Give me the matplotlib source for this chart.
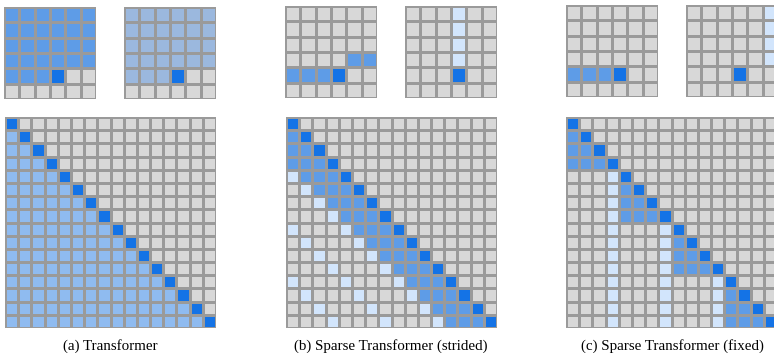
import numpy as np
import matplotlib.pyplot as plt
from matplotlib.colors import ListedColormap

# cell codes: . empty, d current token, m attended (dense), a attended (full), s second head (full), l attended (sparse)
codes = ".dmlas"
cell_colors = ["#d8d8d8", "#1473e6", "#5e9ce7", "#d2e5fc", "#8fbbf0", "#9bb8de"]

# small 6x6 grids (two heads per panel)
small_a1 = ["mmmmmm", "mmmmmm", "mmmmmm", "mmmmmm", "mmmd..", "......"]
small_a2 = ["ssssss", "ssssss", "ssssss", "ssssss", "sssd..", "......"]
small_b1 = ["......", "......", "......", "....mm", "mmmd..", "......"]
small_b2 = ["...l..", "...l..", "...l..", "...l..", "...d..", "......"]
small_c1 = ["......", "......", "......", "......", "mmmd..", "......"]
small_c2 = [".....l", ".....l", ".....l", ".....l", "...d..", "......"]

# big 16x16 connectivity matrices
big_a = ["d...............",
         "ad..............",
         "aad.............",
         "aaad............",
         "aaaad...........",
         "aaaaad..........",
         "aaaaaad.........",
         "aaaaaaad........",
         "aaaaaaaad.......",
         "aaaaaaaaad......",
         "aaaaaaaaaad.....",
         "aaaaaaaaaaad....",
         "aaaaaaaaaaaad...",
         "aaaaaaaaaaaaad..",
         "aaaaaaaaaaaaaad.",
         "aaaaaaaaaaaaaaad"]
big_b = ["d...............",
         "md..............",
         "mmd.............",
         "mmmd............",
         "lmmmd...........",
         ".lmmmd..........",
         "..lmmmd.........",
         "...lmmmd........",
         "l...lmmmd.......",
         ".l...lmmmd......",
         "..l...lmmmd.....",
         "...l...lmmmd....",
         "l...l...lmmmd...",
         ".l...l...lmmmd..",
         "..l...l...lmmmd.",
         "...l...l...lmmmd"]
big_c = ["d...............",
         "md..............",
         "mmd.............",
         "mmmd............",
         "...ld...........",
         "...lmd..........",
         "...lmmd.........",
         "...lmmmd........",
         "...l...ld.......",
         "...l...lmd......",
         "...l...lmmd.....",
         "...l...lmmmd....",
         "...l...l...ld...",
         "...l...l...lmd..",
         "...l...l...lmmd.",
         "...l...l...lmmmd"]

captions = ["(a) Transformer",
            "(b) Sparse Transformer (strided)",
            "(c) Sparse Transformer (fixed)"]

W, H = 774, 353
fig = plt.figure(figsize=(W / 100, H / 100), dpi=100)
cmap = ListedColormap(cell_colors)


def draw_grid(rows, left, top, size):
    ax = fig.add_axes([left / W, 1 - (top + size) / H, size / W, size / H])
    vals = np.array([[codes.index(ch) for ch in r] for r in rows])
    n = vals.shape[0]
    ax.pcolormesh(np.arange(n + 1), np.arange(n + 1), vals, cmap=cmap,
                  vmin=-0.5, vmax=len(codes) - 0.5,
                  edgecolors="#9a9a9a", linewidth=0.75)
    ax.set_xlim(0, n)
    ax.set_ylim(n, 0)
    ax.set_axis_off()
    return ax


small = [(small_a1, 4, 7), (small_a2, 124, 7),
         (small_b1, 285, 6), (small_b2, 405, 6),
         (small_c1, 566, 5), (small_c2, 686, 5)]
for rows, left, top in small:
    draw_grid(rows, left, top, 92)

big = [(big_a, 5), (big_b, 286), (big_c, 566)]
for rows, left in big:
    draw_grid(rows, left, 117, 211)

for text, cx in zip(captions, [110, 391, 672]):
    fig.text(cx / W, 1 - 346 / H, text, ha="center", va="center",
             fontsize=10.8, family=["Liberation Serif", "DejaVu Serif"])

fig.savefig("out.png", dpi=100)
